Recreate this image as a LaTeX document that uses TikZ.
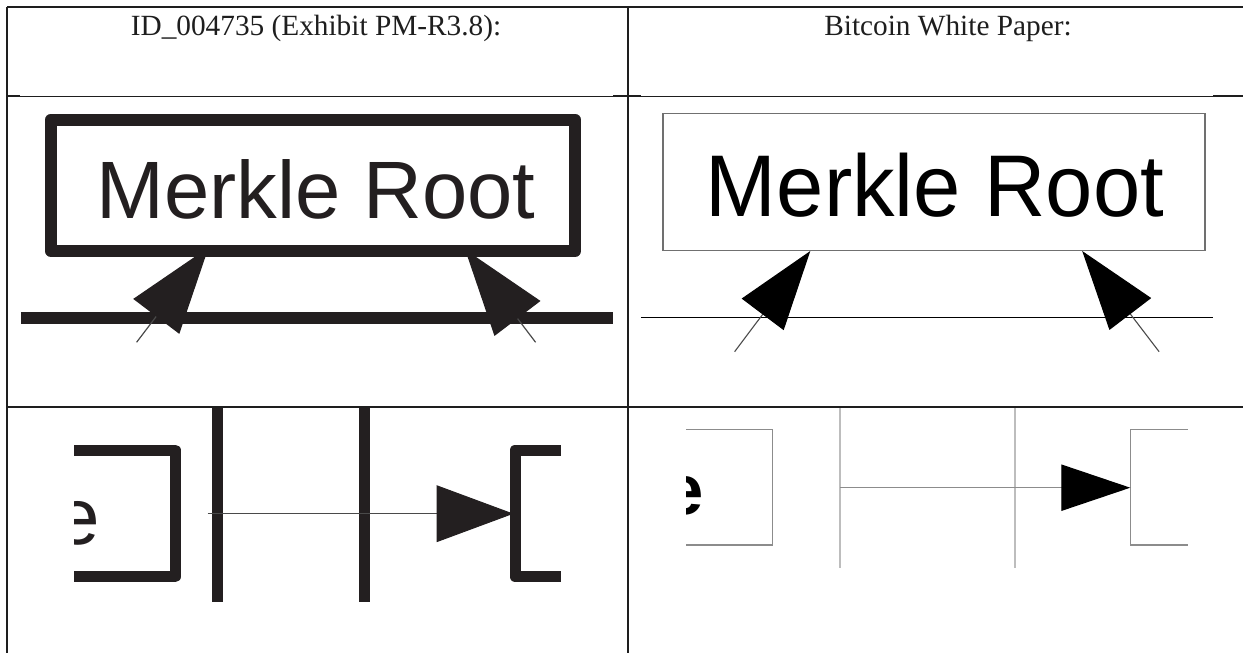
\documentclass[tikz,border=0pt]{standalone}
\usepackage{fontspec}
\setmainfont{Liberation Serif}
\newfontfamily\arialf{Liberation Sans}
\usetikzlibrary{arrows.meta}
\definecolor{tbl}{HTML}{1E1E1E}
\definecolor{ldark}{HTML}{231F20}
\definecolor{shaft}{HTML}{4A4A4A}
\definecolor{rgrey}{HTML}{707070}
\definecolor{lgrey}{HTML}{BDBDBD}
\definecolor{mgrey}{HTML}{8C8C8C}
\begin{document}
\begin{tikzpicture}[x=0.5pt,y=-0.5pt,
  tblline/.style={draw=tbl, line width=1pt},
  tblthin/.style={draw=tbl, line width=0.5pt},
  hdr/.style={font=\fontsize{14.65pt}{17pt}\selectfont, text=tbl, anchor=base, inner sep=0pt},
  lthick/.style={draw=ldark, line width=6pt},
  lpart/.style={draw=ldark, line width=5.5pt, line join=round},
  lbar/.style={draw=ldark, line width=5.5pt},
  lshaft/.style={draw=shaft, line width=0.6pt, -{Triangle[length=43.3pt,width=28.75pt,color=ldark]}},
  larrowh/.style={draw=shaft, line width=0.5pt, -{Triangle[length=38.4pt,width=28.35pt,color=ldark]}},
  rshaft/.style={draw=shaft, line width=0.55pt, -{Triangle[length=39.65pt,width=26.15pt,color=black]}},
  rline/.style={draw=black, line width=0.6pt},
  rpart/.style={draw=mgrey, line width=0.6pt},
  rbar/.style={draw=lgrey, line width=0.75pt},
  rarrowh/.style={draw=mgrey, line width=0.6pt, -{Triangle[length=34.5pt,width=23.15pt,color=black]}}
]
\useasboundingbox (0,0) rectangle (1243,653);
\fill[white] (0,0) rectangle (1243,653);

% ---------- header ----------
\node[hdr] (hleft) at (316,35) {ID\_004735 (Exhibit PM-R3.8):};
\node[hdr] (hright) at (948,35) {Bitcoin White Paper:};

% ---------- left Merkle panel ----------
\node[draw=ldark, line width=6.25pt, line join=round, minimum width=262pt, minimum height=65.5pt, inner sep=0pt] (lbox) at (313,185.3) {};
\node[font=\arialf\fontsize{40.7pt}{42pt}\selectfont, text=ldark, anchor=base, inner sep=0pt] (ltext) at (316,218.3) {Merkle Root};
\coordinate (lh1) at (20.9,317.5);
\coordinate (lh2) at (612.7,317.5);
\draw[lthick] (lh1) -- (lh2);
\coordinate (la1s) at (136.6,342.3);
\coordinate (la1t) at (208.6,247.4);
\coordinate (la2s) at (535.6,342.3);
\coordinate (la2t) at (465.1,249.5);
\draw[lshaft] (la1s) -- (la1t);
\draw[lshaft] (la2s) -- (la2t);

% ---------- right Merkle panel ----------
\node[draw=rgrey, line width=0.75pt, minimum width=270.8pt, minimum height=68.5pt, inner sep=0pt] (rbox) at (934,181.8) {};
\node[font=\arialf\fontsize{43.8pt}{45pt}\selectfont, text=black, anchor=base, inner sep=0pt] (rtext) at (935,216) {\scalebox{0.97}[1]{Merkle Root}};
\coordinate (rh1) at (640.8,317.7);
\coordinate (rh2) at (1213.1,317.7);
\draw[rline] (rh1) -- (rh2);
\coordinate (ra1s) at (734.6,351.7);
\coordinate (ra1t) at (810.3,251);
\coordinate (ra2s) at (1159.1,351.7);
\coordinate (ra2t) at (1082.2,251);
\draw[rshaft] (ra1s) -- (ra1t);
\draw[rshaft] (ra2s) -- (ra2t);

% ---------- bottom left panel ----------
\coordinate (bl1) at (74,450);
\coordinate (bl2) at (175.4,450);
\coordinate (bl3) at (175.4,576.7);
\coordinate (bl4) at (74,576.7);
\draw[lpart] (bl1) -- (bl2) -- (bl3) -- (bl4);
\begin{scope}
  \clip (74,430) rectangle (200,640);
  \node[font=\arialf\fontsize{40pt}{42pt}\selectfont, text=ldark, anchor=base east, inner sep=0pt] (le) at (99.9,544) {e};
\end{scope}
\coordinate (lv1a) at (217.4,407);
\coordinate (lv1b) at (217.4,601.7);
\coordinate (lv2a) at (364.4,407);
\coordinate (lv2b) at (364.4,601.7);
\draw[lbar] (lv1a) -- (lv1b);
\draw[lbar] (lv2a) -- (lv2b);
\coordinate (br1) at (560.5,450);
\coordinate (br2) at (515,450);
\coordinate (br3) at (515,576.7);
\coordinate (br4) at (560.5,576.7);
\draw[lpart] (br1) -- (br2) -- (br3) -- (br4);
\coordinate (lhs) at (207.7,513.7);
\coordinate (lht) at (513.5,513.7);
\draw[larrowh] (lhs) -- (lht);

% ---------- bottom right panel ----------
\coordinate (rl1) at (686,429.3);
\coordinate (rl2) at (772.8,429.3);
\coordinate (rl3) at (772.8,545);
\coordinate (rl4) at (686,545);
\draw[rpart] (rl1) -- (rl2) -- (rl3) -- (rl4);
\begin{scope}
  \clip (686,420) rectangle (760,560);
  \node[font=\arialf\bfseries\fontsize{35.3pt}{37pt}\selectfont, text=black, anchor=base east, inner sep=0pt] (re) at (703.8,514.2) {e};
\end{scope}
\coordinate (rv1a) at (840.2,407);
\coordinate (rv1b) at (840.2,568.3);
\coordinate (rv2a) at (1015.2,407);
\coordinate (rv2b) at (1015.2,568.3);
\draw[rbar] (rv1a) -- (rv1b);
\draw[rbar] (rv2a) -- (rv2b);
\coordinate (rr1) at (1187.9,429.3);
\coordinate (rr2) at (1130.3,429.3);
\coordinate (rr3) at (1130.3,545);
\coordinate (rr4) at (1187.9,545);
\draw[rpart] (rr1) -- (rr2) -- (rr3) -- (rr4);
\coordinate (rhs) at (840.2,487.7);
\coordinate (rht) at (1130.3,487.7);
\draw[rarrowh] (rhs) -- (rht);

% ---------- table rules ----------
\coordinate (tTL) at (7,7);
\coordinate (tTR) at (1243,7);
\coordinate (tBL) at (7,653);
\coordinate (tMT) at (628,7);
\coordinate (tMB) at (628,653);
\draw[tblline] (tTL) -- (tTR);
\draw[tblline] (tTL) -- (tBL);
\draw[tblline] (tMT) -- (tMB);
\coordinate (h1a) at (7,96);
\coordinate (h1b) at (1243,96);
\draw[tblthin] (h1a) -- (h1b);
\coordinate (s1a) at (7,96);   \coordinate (s1b) at (20,96);
\coordinate (s2a) at (613,96); \coordinate (s2b) at (641,96);
\coordinate (s3a) at (1213,96);\coordinate (s3b) at (1243,96);
\draw[tblline] (s1a) -- (s1b);
\draw[tblline] (s2a) -- (s2b);
\draw[tblline] (s3a) -- (s3b);
\coordinate (h2a) at (7,407);
\coordinate (h2b) at (1243,407);
\draw[tblline] (h2a) -- (h2b);
\end{tikzpicture}
\end{document}
